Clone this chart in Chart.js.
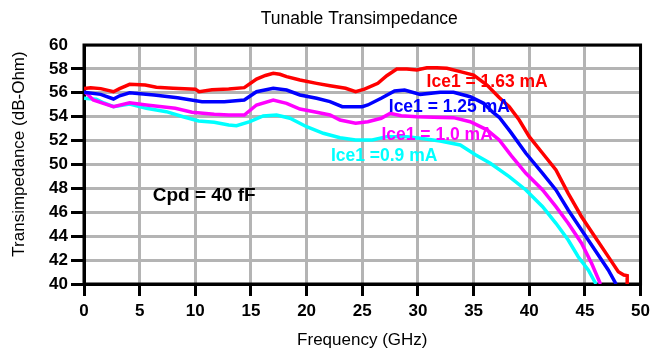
<!DOCTYPE html>
<html>
<head>
<meta charset="utf-8">
<script src="https://cdn.jsdelivr.net/npm/chart.js@4/dist/chart.umd.min.js"></script>
<style>
  body { margin: 0; background: #fff; }
  #wrap { width: 655px; height: 354px; }
</style>
</head>
<body>
<div id="wrap"><canvas id="tzChart" width="655" height="354"></canvas></div>
<script>
// Ice1 = 1.63 mA
const redFreq = [0, 0.6, 1.5, 2.65, 3.2, 4.1, 5.5, 6.5, 8, 10.0, 10.35, 11.5, 13, 14.4, 15.5, 16.3, 17.0, 17.6, 18.2, 19.4, 20.9, 22.1, 23.5, 24.4, 25.2, 26.4, 27.2, 28.1, 29.0, 29.9, 30.8, 31.7, 32.6, 33.8, 35.0, 36.2, 37.3, 38.2, 39.1, 40.0, 41.2, 42.4, 43.5, 44.7, 45.9, 47.1, 48.0, 48.5, 48.8, 48.8];
const redVals = [56.35, 56.43, 56.35, 56.09, 56.35, 56.71, 56.65, 56.46, 56.38, 56.3, 56.09, 56.25, 56.32, 56.43, 57.15, 57.45, 57.63, 57.55, 57.35, 57.07, 56.79, 56.59, 56.38, 56.09, 56.3, 56.79, 57.43, 57.99, 57.99, 57.91, 58.1, 58.1, 58.05, 57.77, 57.49, 56.65, 55.6, 54.84, 53.72, 52.33, 50.94, 49.54, 47.59, 45.63, 43.96, 42.29, 41.03, 40.75, 40.7, 40];

// Ice1 = 1.25 mA
const blueFreq = [0, 1.5, 2.65, 3.2, 4.1, 6.3, 8.4, 10.6, 12.6, 14.4, 15.5, 17.0, 18.2, 19.4, 20.9, 22.1, 23.2, 25.0, 25.5, 26.7, 27.9, 28.8, 30.2, 32.0, 33.2, 34.7, 35.9, 36.7, 37.3, 38.3, 39.7, 41.2, 42.4, 43.5, 44.7, 45.9, 47.1, 47.8];
const blueVals = [56.04, 55.87, 55.48, 55.75, 56.0, 55.82, 55.59, 55.26, 55.26, 55.4, 56.09, 56.38, 56.23, 55.82, 55.54, 55.26, 54.84, 54.84, 54.98, 55.54, 56.15, 56.23, 55.87, 56.04, 56.04, 55.67, 55.12, 54.4, 53.95, 52.75, 50.94, 49.26, 47.87, 46.19, 44.52, 42.85, 41.17, 40];

// Ice1 = 1.0 mA
const magFreq = [0, 0.3, 0.83, 1.8, 2.65, 4.1, 5.6, 8.2, 9.7, 11.7, 13, 14.4, 15.5, 17.0, 18.2, 19.4, 20.9, 22.1, 23.0, 24.4, 25.5, 26.7, 27.5, 28.5, 29.9, 31.4, 33.2, 34.7, 36.2, 37.3, 38.4, 39.7, 41.2, 42.4, 43.5, 44.7, 45.6, 46.4];
const magVals = [56.1, 55.9, 55.4, 55.1, 54.84, 55.17, 54.98, 54.7, 54.37, 54.2, 54.14, 54.14, 54.98, 55.4, 55.12, 54.64, 54.37, 54.14, 53.72, 53.45, 53.58, 53.87, 54.28, 54.08, 54.0, 53.95, 53.92, 53.58, 52.9, 52.05, 50.72, 49.26, 47.87, 46.47, 45.08, 43.41, 41.73, 40];

// Ice1 = 0.9 mA
const cyanFreq = [0, 1.1, 1.8, 2.65, 4.1, 5.6, 7.4, 8.9, 10.3, 11.7, 13, 13.7, 14.9, 16.1, 17.3, 18.5, 20.0, 21.5, 23.0, 24.4, 25.9, 27.2, 29.0, 30.2, 32.0, 33.8, 35.2, 36.5, 38.2, 39.7, 41.2, 42.4, 43.5, 44.4, 45.3, 46.0];
const cyanVals = [55.54, 55.46, 55.15, 54.84, 55.06, 54.7, 54.42, 54.0, 53.64, 53.53, 53.31, 53.25, 53.58, 54.06, 54.14, 53.87, 53.16, 52.61, 52.24, 52.05, 52.05, 52.33, 52.33, 52.19, 51.97, 51.63, 50.8, 50.1, 48.98, 47.87, 46.47, 45.08, 43.68, 42.28, 41.17, 40];

// axis ranges
const xTicks = [0, 5, 10, 15, 20, 25, 30, 35, 40, 45, 50];
const yTicks = [40, 42, 44, 46, 48, 50, 52, 54, 56, 58, 60];

// in-plot labels: text, freq, dB, colour
const noteText = ['Ice1 = 1.63 mA', 'Ice1 = 1.25 mA', 'Ice1 = 1.0 mA', 'Ice1 =0.9 mA', 'Cpd = 40 fF'];
const noteFreq = [30.78, 27.38, 26.72, 22.18, 6.17];
const noteDb = [56.86, 54.81, 52.47, 50.7, 47.36];
const noteColor = ['#ff0000', '#0000ff', '#ff00ff', '#00ffff', '#000000'];

const FONT = '"Liberation Sans", Arial, sans-serif';

const toPoints = (xs, ys) => xs.map((x, i) => ({ x, y: ys[i] }));

const series = [
    { label: 'Ice1 = 1.63 mA', data: toPoints(redFreq, redVals), color: '#ff0000' },
    { label: 'Ice1 = 1.25 mA', data: toPoints(blueFreq, blueVals), color: '#0000ff' },
    { label: 'Ice1 = 1.0 mA', data: toPoints(magFreq, magVals), color: '#ff00ff' },
    { label: 'Ice1 = 0.9 mA', data: toPoints(cyanFreq, cyanVals), color: '#00ffff' }
];

const decor = {
    id: 'decor',
    beforeDatasetsDraw: (chart) => {
        const { ctx, chartArea: a } = chart;
        ctx.save();
        ctx.strokeStyle = '#000';
        ctx.lineWidth = 3;
        ctx.strokeRect(a.left, a.top, a.right - a.left, a.bottom - a.top);
        ctx.restore();
    },
    afterDatasetsDraw: (chart) => {
        const { ctx } = chart;
        const xs = chart.scales.x, ys = chart.scales.y;
        ctx.save();
        ctx.textAlign = 'left';
        ctx.textBaseline = 'middle';
        noteText.forEach((t, i) => {
            ctx.font = (i === 4 ? 'bold 19px ' : 'bold 17.5px ') + FONT;
            ctx.fillStyle = noteColor[i];
            ctx.fillText(t, xs.getPixelForValue(noteFreq[i]), ys.getPixelForValue(noteDb[i]));
        });
        ctx.restore();
    },
    afterDraw: (chart) => {
        const { ctx, chartArea: a } = chart;
        ctx.save();
        ctx.fillStyle = '#000';
        ctx.textAlign = 'center';
        ctx.textBaseline = 'middle';
        // title, centred over the plot
        ctx.font = '17.5px ' + FONT;
        ctx.fillText('Tunable Transimpedance', (a.left + a.right) / 2 - 3, 19);
        // y axis title
        ctx.translate(19, a.top + 109);
        ctx.rotate(-Math.PI / 2);
        ctx.font = '17px ' + FONT;
        ctx.fillText('Transimpedance (dB-Ohm)', 0, 0);
        ctx.restore();
    }
};

const ctx = document.getElementById('tzChart').getContext('2d');
const chart = new Chart(ctx, {
    type: 'line',
    data: {
        datasets: series.map(s => ({
            label: s.label,
            data: s.data,
            borderColor: s.color,
            backgroundColor: s.color,
            borderWidth: 3.5,
            pointRadius: 0,
            tension: 0,
            fill: false
        }))
    },
    options: {
        responsive: false,
        animation: false,
        devicePixelRatio: 1,
        layout: { padding: { top: 45, right: 9, left: 0, bottom: 0 } },
        plugins: {
            legend: { display: false },
            title: { display: false },
            tooltip: { enabled: false }
        },
        scales: {
            x: {
                type: 'linear',
                min: 0,
                max: 50,
                afterFit: (s) => { s.height = 70; },
                afterBuildTicks: (s) => { s.ticks = xTicks.map(v => ({ value: v })); },
                ticks: {
                    color: '#000',
                    padding: 5,
                    maxRotation: 0,
                    font: { family: FONT, size: 17, weight: 'bold' }
                },
                grid: {
                    color: '#b4b4b4',
                    lineWidth: 3,
                    tickColor: '#000',
                    tickWidth: 3,
                    tickLength: 12
                },
                border: { color: '#000', width: 3 },
                title: {
                    display: true,
                    text: 'Frequency (GHz)',
                    color: '#000',
                    font: { family: FONT, size: 17 },
                    padding: { top: 0, bottom: 3 }
                }
            },
            y: {
                min: 40,
                max: 60,
                afterFit: (s) => { s.width = 84; },
                afterBuildTicks: (s) => { s.ticks = yTicks.map(v => ({ value: v })); },
                ticks: {
                    color: '#000',
                    padding: 3,
                    font: { family: FONT, size: 17, weight: 'bold' }
                },
                grid: {
                    color: '#b4b4b4',
                    lineWidth: 3,
                    tickColor: (c) => (c.tick && c.tick.value === 60 ? 'rgba(0,0,0,0)' : '#000'),
                    tickWidth: 3,
                    tickLength: 13
                },
                border: { color: '#000', width: 3 }
            }
        }
    },
    plugins: [decor]
});
</script>
</body>
</html>
